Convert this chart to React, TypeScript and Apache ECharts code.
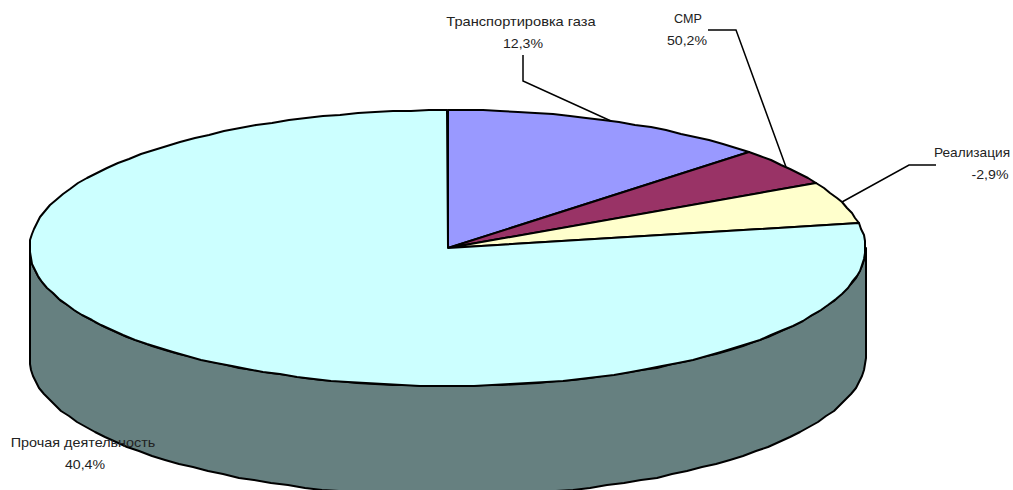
import React, { useEffect, useRef } from "react";
import * as echarts from "echarts";

const categories = ["Транспортировка газа", "СМР", "Реализация", "Прочая деятельность"];
const percentLabels = ["12,3%", "50,2%", "-2,9%", "40,4%"];
const sliceShares = [12.8, 4.4, 4.9, 77.9];
const sliceColors = ["#9999FF", "#993366", "#FFFFCC", "#CCFFFF"];
const wallColors = ["#4D4D80", "#4D1A33", "#808066", "#668080"];

const CX = 447.5;
const CY = 248;
const RX = 418;
const RY = 138;
const DEPTH = 110;
const FONT = "'Liberation Sans', Arial, sans-serif";

const namePos = [
  { x: 521, y: 22, sx: 1.22 },
  { x: 688, y: 19, sx: 1.05 },
  { x: 972, y: 153, sx: 1.14 },
  { x: 83, y: 443, sx: 1.2 },
];
const percentPos = [
  { x: 523, y: 44, sx: 1.18 },
  { x: 687, y: 41, sx: 1.18 },
  { x: 990, y: 175, sx: 1.18 },
  { x: 85, y: 465, sx: 1.18 },
];
const leaderElbows: number[][][] = [
  [[523, 55], [523, 81]],
  [[708, 30], [736, 30]],
  [[936, 165], [909, 165]],
  [],
];

const total = sliceShares.reduce((a, b) => a + b, 0);
const angleAt = (i: number) =>
  (sliceShares.slice(0, i).reduce((a, b) => a + b, 0) / total) * 2 * Math.PI;
const pt = (a: number, dy = 0) => [
  Math.round(CX + RX * Math.sin(a)),
  Math.round(CY - RY * Math.cos(a) + dy),
];
const arc = (a0: number, a1: number, dy = 0) => {
  const n = Math.max(2, Math.ceil((a1 - a0) / (Math.PI / 72)));
  const out: number[][] = [];
  for (let k = 0; k <= n; k++) out.push(pt(a0 + ((a1 - a0) * k) / n, dy));
  return out;
};

const renderSlice = (params: any, api: any) => {
  const i = params.dataIndex;
  const a0 = angleAt(i);
  const a1 = a0 + (api.value(0) / total) * 2 * Math.PI;
  const children: any[] = [];
  const w0 = Math.max(a0, Math.PI / 2);
  const w1 = Math.min(a1, (3 * Math.PI) / 2);
  if (w1 > w0) {
    children.push({
      type: "polygon",
      shape: { points: [...arc(w0, w1), ...arc(w0, w1, DEPTH).reverse()] },
      style: { fill: wallColors[i], stroke: "#000", lineWidth: 2, lineJoin: "round" },
    });
  }
  children.push({
    type: "polygon",
    shape: { points: [[Math.round(CX), CY], ...arc(a0, a1)] },
    style: { fill: sliceColors[i], stroke: "#000", lineWidth: 2, lineJoin: "round" },
  });
  return { type: "group", children };
};

export default function App() {
  const ref = useRef<HTMLDivElement>(null);
  useEffect(() => {
    document.body.style.margin = "0";
    document.body.style.background = "#fff";
    const chart = echarts.init(ref.current!, undefined, { renderer: "svg" });
    const graphics: any[] = [];
    categories.forEach((name, i) => {
      const elbows = leaderElbows[i];
      if (elbows.length) {
        const mid = angleAt(i) + (sliceShares[i] / total) * Math.PI;
        graphics.push({
          type: "polyline",
          z: 20,
          shape: { points: [...elbows, pt(mid)] },
          style: { stroke: "#000", lineWidth: 1.5, fill: "none" },
        });
      }
      const texts: [string, { x: number; y: number; sx: number }][] = [
        [name, namePos[i]],
        [percentLabels[i], percentPos[i]],
      ];
      texts.forEach(([text, p]) => {
        graphics.push({
          type: "text",
          z: 30,
          x: p.x,
          y: p.y,
          scaleX: p.sx,
          style: { text, font: `12px ${FONT}`, fill: "#222", align: "center", verticalAlign: "middle" },
        });
      });
    });
    chart.setOption({
      animation: false,
      backgroundColor: "#fff",
      series: [
        {
          type: "custom",
          coordinateSystem: "none",
          renderItem: renderSlice,
          data: sliceShares,
          silent: true,
        },
      ],
      graphic: { elements: graphics },
    });
    return () => chart.dispose();
  }, []);
  return <div ref={ref} style={{ width: 1013, height: 490, overflow: "hidden" }} />;
}
